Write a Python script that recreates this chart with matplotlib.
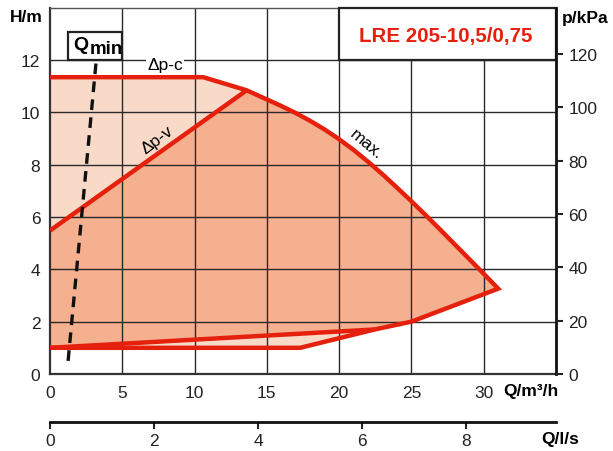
import matplotlib
matplotlib.use("Agg")
import matplotlib.pyplot as plt
from matplotlib.patches import Rectangle, Polygon

plt.rcParams['font.family'] = ['Liberation Sans', 'DejaVu Sans']

# Pump curve data (Q in m3/h, H in m)
q_const = [0.0, 10.6]
h_const = [11.34, 11.34]

q_max = [10.6, 13.6, 15.0, 16.0, 17.0, 18.0, 19.0, 20.0, 21.0, 22.0, 23.0,
         24.0, 25.0, 26.0, 27.0, 28.0, 29.0, 30.0, 31.0]
h_max = [11.34, 10.84, 10.49, 10.24, 9.97, 9.67, 9.34, 8.97, 8.56, 8.11, 7.63,
         7.12, 6.6, 6.06, 5.51, 4.95, 4.39, 3.83, 3.26]

q_low = [31.0, 25.0, 22.45]
h_low = [3.26, 2.0, 1.7]

q_var = [0.0, 13.6]
h_var = [5.48, 10.84]

q_var_low = [0.0, 22.45]
h_var_low = [1.0, 1.7]

q_min = [0.0, 17.3, 22.45]
h_min = [1.0, 1.0, 1.7]

qmin_q = [1.25, 3.2]
qmin_h = [0.5, 12.0]

x_ticks = [0, 5, 10, 15, 20, 25, 30]
y_ticks = [0, 2, 4, 6, 8, 10, 12]
p_ticks = [0, 20, 40, 60, 80, 100, 120]
ls_ticks = [0, 2, 4, 6, 8]

RHO_G = 9.81       # kPa per m of head
M3H_PER_LS = 3.6

red = '#e5200c'
light = '#f9dac9'
dark = '#f4b08f'
gridc = '#2a2a2a'
fs = 12.5

fig = plt.figure(figsize=(6.13, 4.52), dpi=100)
ax = fig.add_axes([0.0816, 0.1704, 0.907 - 0.0816, 0.981 - 0.1704])
ax.set_xlim(0, 35)
ax.set_ylim(0, 14)

# Fills: full operating envelope (light) and proportional-pressure region (dark)
env = [(0.0, 1.0)] + list(zip(q_const, h_const)) + list(zip(q_max[1:], h_max[1:])) \
    + list(zip(q_low[1:], h_low[1:])) + list(zip(q_min[::-1][1:], h_min[::-1][1:]))
ax.add_patch(Polygon(env, closed=True, facecolor=light, edgecolor='none', zorder=1))

var_poly = list(zip(q_var, h_var)) + list(zip(q_max[1:], h_max[1:])) \
    + list(zip(q_low[1:], h_low[1:])) + list(zip(q_var_low[::-1], h_var_low[::-1]))
ax.add_patch(Polygon(var_poly, closed=True, facecolor=dark, edgecolor='none', zorder=1.5))

# Grid
for x in x_ticks[1:]:
    ax.axvline(x, color=gridc, lw=1.0, zorder=2)
for y in y_ticks[1:]:
    ax.axhline(y, color=gridc, lw=1.0, zorder=2)

# Curves: constant-pressure + max + return along the low edge as one path
lw = 3.2
kw = dict(color=red, lw=lw, solid_capstyle='butt', solid_joinstyle='round', zorder=4)
ax.plot(q_const + q_max[1:] + q_low[1:], h_const + h_max[1:] + h_low[1:],
        **dict(kw, solid_joinstyle='miter'))
ax.plot(q_var, h_var, **kw)
ax.plot(q_var_low, h_var_low, **kw)
ax.plot(q_min, h_min, **kw)

# Minimum flow line
ax.plot(qmin_q, qmin_h, color='#111111', lw=2.4, dashes=(3.2, 2.2), zorder=5)

# Qmin box
ax.add_patch(Rectangle((1.24, 12.0), 5.0 - 1.24, 1.07, facecolor='white',
                       edgecolor='#222222', lw=1.6, zorder=6))
ax.text(1.62, 12.6, 'Q', fontsize=14, fontweight='bold', ha='left', va='center', zorder=7)
ax.text(2.72, 12.42, 'min', fontsize=13.5, fontweight='bold', ha='left', va='center', zorder=7)

# Model box
ax.add_patch(Rectangle((20.0, 12.0), 15.0, 2.0, facecolor='white',
                       edgecolor='#222222', lw=1.6, zorder=6, clip_on=False))
ax.text(27.4, 12.93, 'LRE 205-10,5/0,75', color=red, fontsize=14.8, fontweight='bold',
        ha='center', va='center', zorder=7)

# Curve labels
ax.text(7.95, 11.84, '\u0394p-c', fontsize=fs, ha='center', va='center', zorder=3,
        bbox=dict(facecolor='white', edgecolor='none', pad=0.5))
ax.text(7.4, 8.97, '\u0394p-v', fontsize=fs, ha='center', va='center', rotation=37, zorder=5)
ax.text(21.9, 8.8, 'max.', fontsize=fs, ha='center', va='center', rotation=-40, zorder=5)

# Axes styling
ax.set_xticks(x_ticks)
ax.set_yticks(y_ticks)
ax.tick_params(axis='both', length=0, labelsize=fs, colors='#222222')
ax.tick_params(axis='x', pad=8)
ax.tick_params(axis='y', pad=7)
for s in ['left', 'bottom']:
    ax.spines[s].set_linewidth(1.6)
    ax.spines[s].set_color('#333333')
ax.spines['top'].set_linewidth(1.0)
ax.spines['top'].set_color('#555555')
ax.spines['right'].set_linewidth(2.0)
ax.spines['right'].set_color('#111111')
ax.spines['right'].set_zorder(8)

# Pressure axis on the right
axp = ax.twinx()
axp.set_ylim(0, 14 * RHO_G)
axp.set_yticks(p_ticks)
axp.tick_params(axis='y', length=5, width=1.5, direction='out', labelsize=fs, pad=4,
                colors='#222222')
for s in axp.spines.values():
    s.set_visible(False)

# Flow axis in l/s below the main axis
sec = ax.secondary_xaxis(-0.131, functions=(lambda q: q / M3H_PER_LS, lambda v: v * M3H_PER_LS))
sec.set_xticks(ls_ticks)
sec.tick_params(axis='x', length=5, width=1.5, direction='out', labelsize=fs, pad=3,
                colors='#222222')
sec.spines['bottom'].set_linewidth(2.0)
sec.spines['bottom'].set_color('#111111')

# Axis titles
fig.text(26 / 613, 1 - 18 / 452, 'H/m', fontsize=12.5, fontweight='bold', ha='center', va='center')
fig.text(585 / 613, 1 - 18 / 452, 'p/kPa', fontsize=12.5, fontweight='bold', ha='center', va='center')
fig.text(531 / 613, 1 - 392 / 452, 'Q/m\u00b3/h', fontsize=12.5, fontweight='bold', ha='center', va='center')
fig.text(560 / 613, 1 - 440 / 452, 'Q/l/s', fontsize=12.5, fontweight='bold', ha='center', va='center')

fig.savefig('out.png', dpi=100)
